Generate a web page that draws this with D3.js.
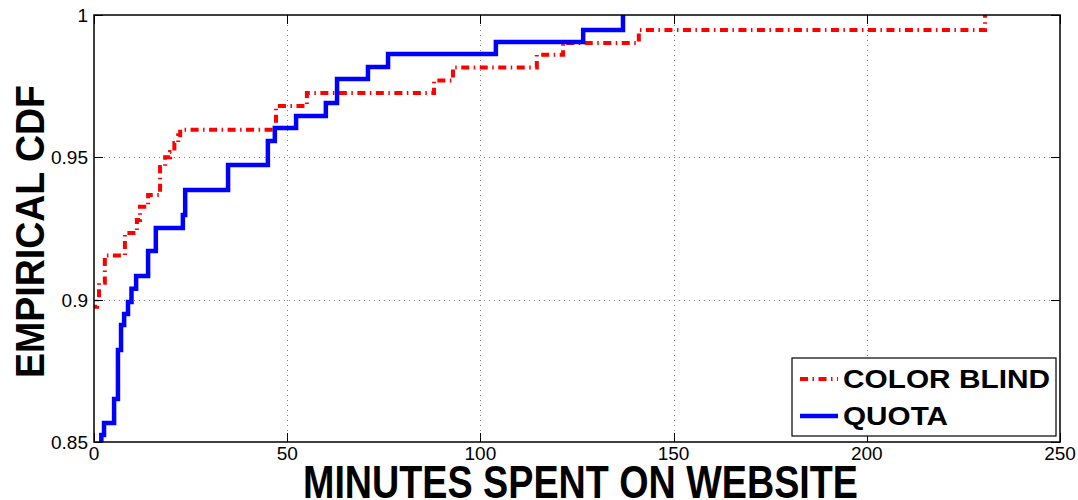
<!DOCTYPE html>
<html><head><meta charset="utf-8">
<script src="https://cdn.jsdelivr.net/npm/d3@7"></script>
<style>body{margin:0;background:#fff}svg{display:block}</style>
</head><body>
<script>
// Data: each point means "at minute x the CDF steps to value y"
const colorBlindX = [-1, 0.8, 1.3, 2.8, 8.0, 11.1, 11.9, 14.0, 17.1, 18.4, 19.7, 20.8, 21.8, 22.3, 47.1, 55.1, 88.0, 92.9, 114.6, 121.4, 141.0, 230.6];
const colorBlindY = [0.8975, 0.9006, 0.9059, 0.9155, 0.9234, 0.9280, 0.9326, 0.9368, 0.9466, 0.9500, 0.9519, 0.9550, 0.9578, 0.9597, 0.9680, 0.9726, 0.9770, 0.9816, 0.9860, 0.9902, 0.9947, 1.0];
const quotaX = [1.9, 1.9, 2.6, 5.2, 6.2, 7.0, 7.8, 8.8, 9.7, 10.9, 14.0, 16.0, 23.0, 23.6, 34.7, 45.0, 46.8, 52.3, 60.0, 62.9, 70.9, 76.1, 104.0, 126.6, 136.9];
const quotaY = [0.84, 0.8525, 0.8567, 0.8651, 0.8823, 0.8911, 0.8950, 0.8992, 0.9038, 0.9083, 0.9171, 0.9252, 0.9297, 0.9385, 0.9473, 0.9557, 0.9603, 0.9645, 0.9691, 0.9775, 0.9817, 0.9863, 0.9905, 0.9947, 1.0];
const xTicks = [0, 50, 100, 150, 200, 250];
const yTicks = [0.85, 0.9, 0.95, 1];
const yTickLabels = ["0.85", "0.9", "0.95", "1"];
const seriesNames = ["COLOR BLIND", "QUOTA"];

const W = 1078, H = 500;
const m = {left: 94, right: 1060, top: 15, bottom: 442};
const svg = d3.select("body").append("svg").attr("width", W).attr("height", H);
const x = d3.scaleLinear().domain([0, 250]).range([m.left, m.right]);
const y = d3.scaleLinear().domain([0.85, 1]).range([m.bottom, m.top]);

// grid
const grid = svg.append("g").attr("stroke", "#808080").attr("stroke-width", 1).attr("stroke-dasharray", "1,4");
grid.selectAll("line.gx").data(xTicks.slice(1, -1)).join("line")
  .attr("x1", d => Math.round(x(d)) + 0.5).attr("x2", d => Math.round(x(d)) + 0.5)
  .attr("y1", m.top).attr("y2", m.bottom);
grid.selectAll("line.gy").data(yTicks.slice(1, -1)).join("line")
  .attr("y1", d => Math.round(y(d)) + 0.5).attr("y2", d => Math.round(y(d)) + 0.5)
  .attr("x1", m.left).attr("x2", m.right);

// clip
svg.append("clipPath").attr("id", "clip").append("rect")
  .attr("x", m.left).attr("y", m.top).attr("width", m.right - m.left).attr("height", m.bottom - m.top);

const line = d3.line().x(d => x(d[0])).y(d => y(d[1])).curve(d3.curveStepAfter);
const cbData = colorBlindX.map((v, i) => [v, colorBlindY[i]]);
const qData = quotaX.map((v, i) => [v, quotaY[i]]);

const plot = svg.append("g").attr("clip-path", "url(#clip)");
plot.append("path").datum(cbData).attr("d", line)
  .attr("fill", "none").attr("stroke", "#ff0000").attr("stroke-width", 4)
  .attr("stroke-dasharray", "8,4.5,1.5,4.5");
plot.append("path").datum(qData).attr("d", line)
  .attr("fill", "none").attr("stroke", "#0000ff").attr("stroke-width", 4.5);

// frame
svg.append("rect").attr("x", m.left).attr("y", m.top).attr("width", m.right - m.left).attr("height", m.bottom - m.top)
  .attr("fill", "none").attr("stroke", "#000").attr("stroke-width", 1.5);

// axes with inward ticks
const tickLen = 9;
const ax = svg.append("g").attr("stroke", "#000").attr("stroke-width", 1);
xTicks.forEach(t => {
  const px = Math.round(x(t)) + 0.5;
  ax.append("line").attr("x1", px).attr("x2", px).attr("y1", m.bottom).attr("y2", m.bottom - tickLen);
  ax.append("line").attr("x1", px).attr("x2", px).attr("y1", m.top).attr("y2", m.top + tickLen);
});
yTicks.forEach(t => {
  const py = Math.round(y(t)) + 0.5;
  ax.append("line").attr("y1", py).attr("y2", py).attr("x1", m.left).attr("x2", m.left + tickLen);
  ax.append("line").attr("y1", py).attr("y2", py).attr("x1", m.right).attr("x2", m.right - tickLen);
});

const tickFont = "'Liberation Sans Narrow','Arial Narrow','Liberation Sans',Arial,sans-serif";
svg.append("g").selectAll("text").data(xTicks).join("text")
  .attr("x", d => x(d)).attr("y", m.bottom + 18)
  .attr("text-anchor", "middle").attr("font-family", tickFont).attr("font-size", 19)
  .text(d => d);
svg.append("g").selectAll("text").data(yTicks).join("text")
  .attr("x", m.left - 6).attr("y", d => y(d) + 7)
  .attr("text-anchor", "end").attr("font-family", tickFont).attr("font-size", 19)
  .text((d, i) => yTickLabels[i]);

// axis titles
svg.append("text").attr("x", (303 + 858) / 2).attr("y", 498)
  .attr("text-anchor", "middle").attr("font-family", tickFont).attr("font-weight", "bold")
  .attr("font-size", 46).attr("textLength", 555).attr("lengthAdjust", "spacingAndGlyphs")
  .text("MINUTES SPENT ON WEBSITE");
svg.append("text").attr("transform", "translate(44," + 231.5 + ") rotate(-90)")
  .attr("text-anchor", "middle").attr("font-family", "'Liberation Sans',Arial,sans-serif").attr("font-weight", "bold")
  .attr("font-size", 40).attr("textLength", 293).attr("lengthAdjust", "spacingAndGlyphs")
  .text("EMPIRICAL CDF");

// legend
const lg = svg.append("g");
lg.append("rect").attr("x", 792).attr("y", 358).attr("width", 264).attr("height", 78)
  .attr("fill", "#fff").attr("stroke", "#000").attr("stroke-width", 1.2);
const legY = [379, 416];
const legW = [207, 105];
lg.append("line").attr("x1", 800).attr("x2", 838).attr("y1", legY[0]).attr("y2", legY[0])
  .attr("stroke", "#ff0000").attr("stroke-width", 4).attr("stroke-dasharray", "8,4.5,1.5,4.5");
lg.append("line").attr("x1", 800).attr("x2", 838).attr("y1", legY[1]).attr("y2", legY[1])
  .attr("stroke", "#0000ff").attr("stroke-width", 4.5);
seriesNames.forEach((n, i) => {
  lg.append("text").attr("x", 843).attr("y", legY[i] + 9)
    .attr("font-family", "'Liberation Sans',Arial,sans-serif").attr("font-weight", "bold")
    .attr("font-size", 26).attr("textLength", legW[i]).attr("lengthAdjust", "spacingAndGlyphs")
    .text(n);
});
</script>
</body></html>
